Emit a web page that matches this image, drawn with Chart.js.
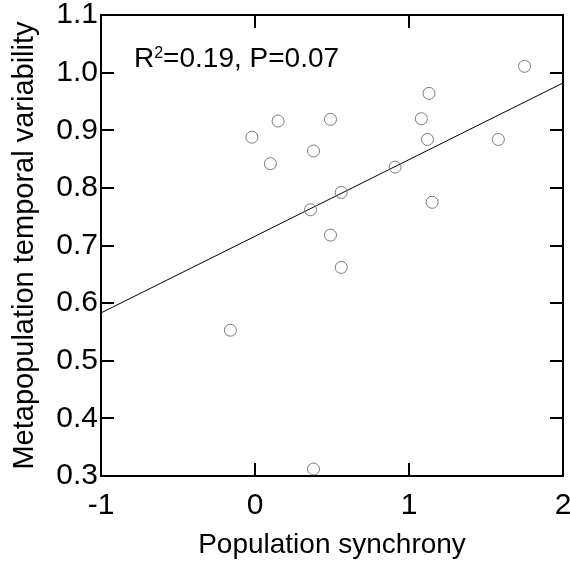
<!DOCTYPE html>
<html>
<head>
<meta charset="utf-8">
<script src="https://cdn.jsdelivr.net/npm/chart.js@4"></script>
<style>
  body { margin: 0; background: #fff; }
  canvas { display: block; }
</style>
</head>
<body>
<canvas id="chart" width="570" height="562"></canvas>
<script>
// Population synchrony (x) vs metapopulation temporal variability (y)
var synchrony = [1.75, 1.13, 0.15, 0.49, 1.08, -0.02, 1.12, 1.58, 0.38, 0.10, 0.91, 0.56, 1.15, 0.36, 0.49, 0.56, -0.16, 0.38];
var variability = [1.011, 0.964, 0.916, 0.919, 0.920, 0.888, 0.884, 0.884, 0.864, 0.842, 0.836, 0.792, 0.775, 0.762, 0.718, 0.662, 0.553, 0.312];

// fitted regression line end points
var fitX = [-1, 2];
var fitY = [0.583, 0.982];

var xTicks = [-1, 0, 1, 2];
var yTicks = [0.3, 0.4, 0.5, 0.6, 0.7, 0.8, 0.9, 1.0, 1.1];
var statText = "=0.19, P=0.07";

var fontFamily = "'Liberation Sans', Arial, sans-serif";

var points = synchrony.map(function(x, i) { return {x: x, y: variability[i]}; });
var fitLine = fitX.map(function(x, i) { return {x: x, y: fitY[i]}; });

// frame + inward ticks on all four sides + stat label
var framePlugin = {
  id: 'frame',
  afterDraw: function(chart) {
    var ctx = chart.ctx;
    var a = chart.chartArea;
    var xs = chart.scales.x, ys = chart.scales.y;
    var tl = 13, lw = 2;
    var L = Math.round(a.left), R = Math.round(a.right), T = Math.round(a.top), B = Math.round(a.bottom);
    ctx.save();
    ctx.fillStyle = '#000';
    // frame
    ctx.fillRect(L - 1, T - 1, R - L + 2, lw);
    ctx.fillRect(L - 1, B - 1, R - L + 2, lw);
    ctx.fillRect(L - 1, T - 1, lw, B - T + 2);
    ctx.fillRect(R - 1, T - 1, lw, B - T + 2);
    // ticks, pointing inward on every side
    xTicks.forEach(function(v) {
      var px = Math.round(xs.getPixelForValue(v));
      ctx.fillRect(px - 1, B - tl, lw, tl);
      ctx.fillRect(px - 1, T, lw, tl);
    });
    yTicks.forEach(function(v) {
      var py = Math.round(ys.getPixelForValue(v));
      ctx.fillRect(L, py - 1, tl, lw);
      ctx.fillRect(R - tl, py - 1, tl, lw);
    });

    // R^2 label
    ctx.textBaseline = 'alphabetic';
    ctx.textAlign = 'left';
    var bx = a.left + 33, by = a.top + 52;
    ctx.font = '28px ' + fontFamily;
    ctx.fillText('R', bx, by);
    var rw = ctx.measureText('R').width;
    ctx.font = '16px ' + fontFamily;
    ctx.fillText('2', bx + rw, by - 9);
    var sw = ctx.measureText('2').width;
    ctx.font = '28px ' + fontFamily;
    ctx.fillText(statText, bx + rw + sw, by);
    ctx.restore();
  }
};

new Chart(document.getElementById('chart'), {
  type: 'scatter',
  data: {
    datasets: [
      {
        data: points,
        pointStyle: 'circle',
        pointRadius: 6,
        pointHoverRadius: 6,
        pointBorderWidth: 1,
        pointBorderColor: '#7a7a7a',
        pointBackgroundColor: 'rgba(0,0,0,0)',
        showLine: false
      },
      {
        type: 'line',
        data: fitLine,
        borderColor: '#000',
        borderWidth: 1,
        pointRadius: 0,
        fill: false
      }
    ]
  },
  options: {
    responsive: false,
    devicePixelRatio: 1,
    animation: false,
    layout: { padding: { left: 0, top: 15, right: 7, bottom: 0 } },
    plugins: {
      legend: { display: false },
      tooltip: { enabled: false }
    },
    scales: {
      x: {
        type: 'linear',
        min: -1, max: 2,
        afterBuildTicks: function(s) { s.ticks = xTicks.map(function(v) { return {value: v}; }); },
        ticks: {
          font: { family: fontFamily, size: 30 },
          color: '#000',
          padding: 12,
          maxRotation: 0,
          autoSkip: false
        },
        grid: { display: false, drawTicks: false },
        border: { display: false },
        title: {
          display: true,
          text: 'Population synchrony',
          font: { family: fontFamily, size: 28 },
          color: '#000',
          padding: { top: 0, bottom: 0 }
        },
        afterFit: function(s) {
          s.height = 86;
          s.paddingLeft = 0; s.paddingRight = 0;
        }
      },
      y: {
        type: 'linear',
        min: 0.3, max: 1.1,
        afterBuildTicks: function(s) { s.ticks = yTicks.map(function(v) { return {value: v}; }); },
        ticks: {
          font: { family: fontFamily, size: 30 },
          color: '#000',
          padding: 3,
          autoSkip: false,
          callback: function(v) { return Number(v).toFixed(1); }
        },
        grid: { display: false, drawTicks: false },
        border: { display: false },
        title: {
          display: true,
          text: 'Metapopulation temporal variability',
          font: { family: fontFamily, size: 29 },
          color: '#000',
          padding: { top: 8, bottom: 0 }
        },
        afterFit: function(s) {
          s.width = 101;
          s.paddingTop = 0; s.paddingBottom = 0;
        }
      }
    }
  },
  plugins: [framePlugin]
});
</script>
</body>
</html>
